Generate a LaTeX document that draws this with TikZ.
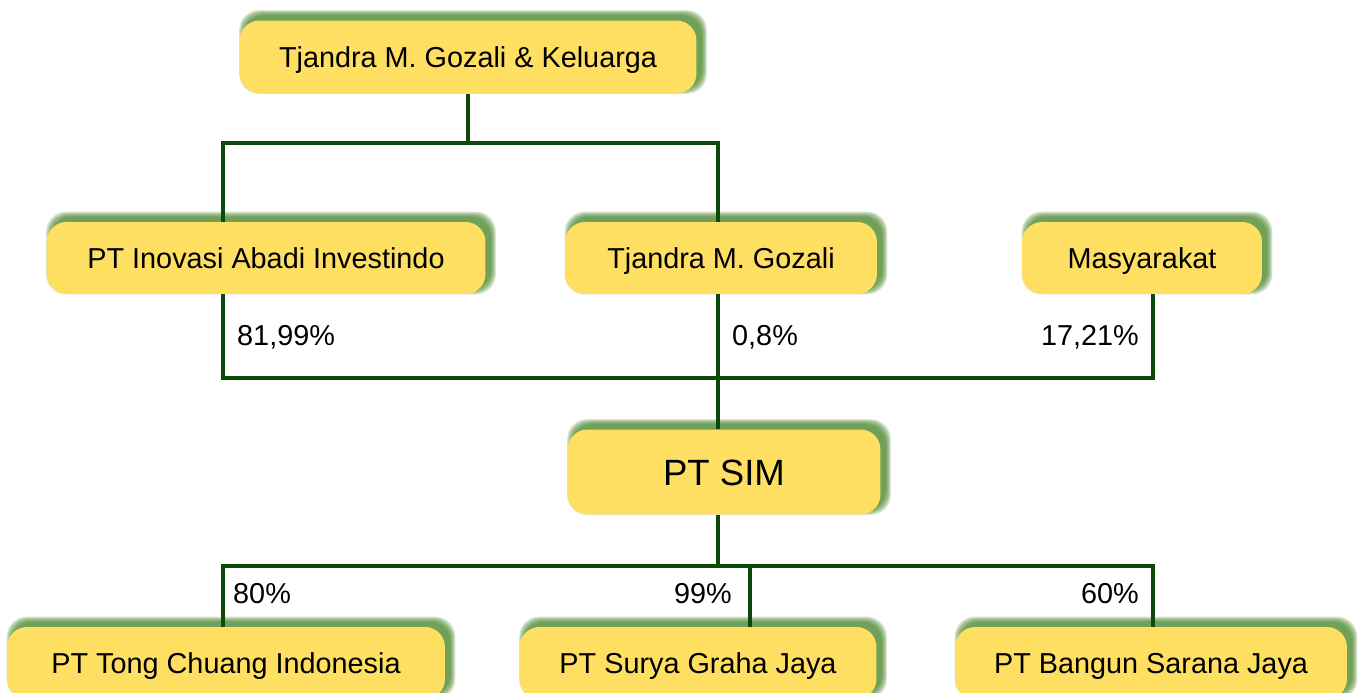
\documentclass[tikz,border=0pt]{standalone}
\usepackage{fontspec}
\setmainfont{Liberation Sans}
\usepackage{xcolor}
\usetikzlibrary{backgrounds}
\definecolor{boxyellow}{HTML}{FEDF62}
\definecolor{glowgreen}{HTML}{3F7F1F}
\definecolor{linkgreen}{HTML}{0B4A0B}

\begin{document}
\begin{tikzpicture}[x=0.02cm, y=-0.02cm,
    entity/.style={rounded corners=0.4cm, fill=boxyellow, align=center,
        font=\fontsize{16.4}{20}\selectfont, text height=14pt, text depth=2.3pt},
    glow/.style={fill=glowgreen, fill opacity=0.2, rounded corners=0.4cm},
    link/.style={draw=linkgreen, line width=0.08cm},
    share/.style={font=\fontsize{16.4}{20}\selectfont}]
        \useasboundingbox (0,0) rectangle (1363,693);

        % owners
        \node[entity, minimum width=9.14cm, minimum height=1.46cm] (fam) at (468,57) {Tjandra M. Gozali \& Keluarga};
        \node[entity, minimum width=8.78cm, minimum height=1.44cm] (iai) at (266,258) {PT Inovasi Abadi Investindo};
        \node[entity, minimum width=6.24cm, minimum height=1.44cm] (tmg) at (721,258) {Tjandra M. Gozali};
        \node[entity, minimum width=4.8cm, minimum height=1.44cm] (pub) at (1142,258) {Masyarakat};

        % company
        \node[entity, minimum width=6.26cm, minimum height=1.7cm, text height=17pt, text depth=2.1pt,
            font=\fontsize{20.8}{24}\selectfont] (sim) at (724,472) {PT SIM};

        % subsidiaries
        \node[entity, minimum width=8.76cm, minimum height=1.44cm] (tci) at (226,663) {PT Tong Chuang Indonesia};
        \node[entity, minimum width=7.14cm, minimum height=1.44cm] (sgj) at (698,663) {PT Surya Graha Jaya};
        \node[entity, minimum width=7.84cm, minimum height=1.44cm] (bsj) at (1151,663) {PT Bangun Sarana Jaya};

        % green glow behind the boxes
        \begin{scope}[on background layer]
            \foreach \n in {fam,iai,tmg,pub,sim,tci,sgj,bsj}
                \foreach \r in {0,...,5}
                    \fill[glow] ([xshift={0.1cm-\r*0.02cm}, yshift={0.1cm-\r*0.02cm}]\n.south west)
                        rectangle ([xshift={0.1cm+\r*0.02cm}, yshift={0.1cm+\r*0.02cm}]\n.north east);
        \end{scope}

        % family to holders
        \coordinate (fl) at (223,143);
        \coordinate (fr) at (718,143);
        \draw[link] (fam.south) -- (fam.south |- fl);
        \draw[link] (fl |- iai.north) -- (fl) -- (fr) -- (fr |- tmg.north);

        % holders to PT SIM
        \coordinate (ml) at (223,378);
        \coordinate (mc) at (718,378);
        \coordinate (mr) at (1153,378);
        \draw[link] (ml |- iai.south) -- (ml) -- (mr) -- (mr |- pub.south);
        \draw[link] (mc |- tmg.south) -- (mc |- sim.north);
        \node[share, anchor=west] (p1) at (231,337) {81,99\%};
        \node[share, anchor=west] (p2) at (726,337) {0,8\%};
        \node[share, anchor=east] (p3) at (1145,337) {17,21\%};

        % PT SIM to subsidiaries
        \coordinate (bl) at (223,566);
        \coordinate (bc) at (750,566);
        \coordinate (br) at (1153,566);
        \draw[link] (mc |- sim.south) -- (mc |- bl);
        \draw[link] (bl |- tci.north) -- (bl) -- (br) -- (br |- bsj.north);
        \draw[link] (bc) -- (bc |- sgj.north);
        \node[share, anchor=west] (q1) at (227,594) {80\%};
        \node[share, anchor=east] (q2) at (738,594) {99\%};
        \node[share, anchor=east] (q3) at (1145,594) {60\%};
\end{tikzpicture}
\end{document}
